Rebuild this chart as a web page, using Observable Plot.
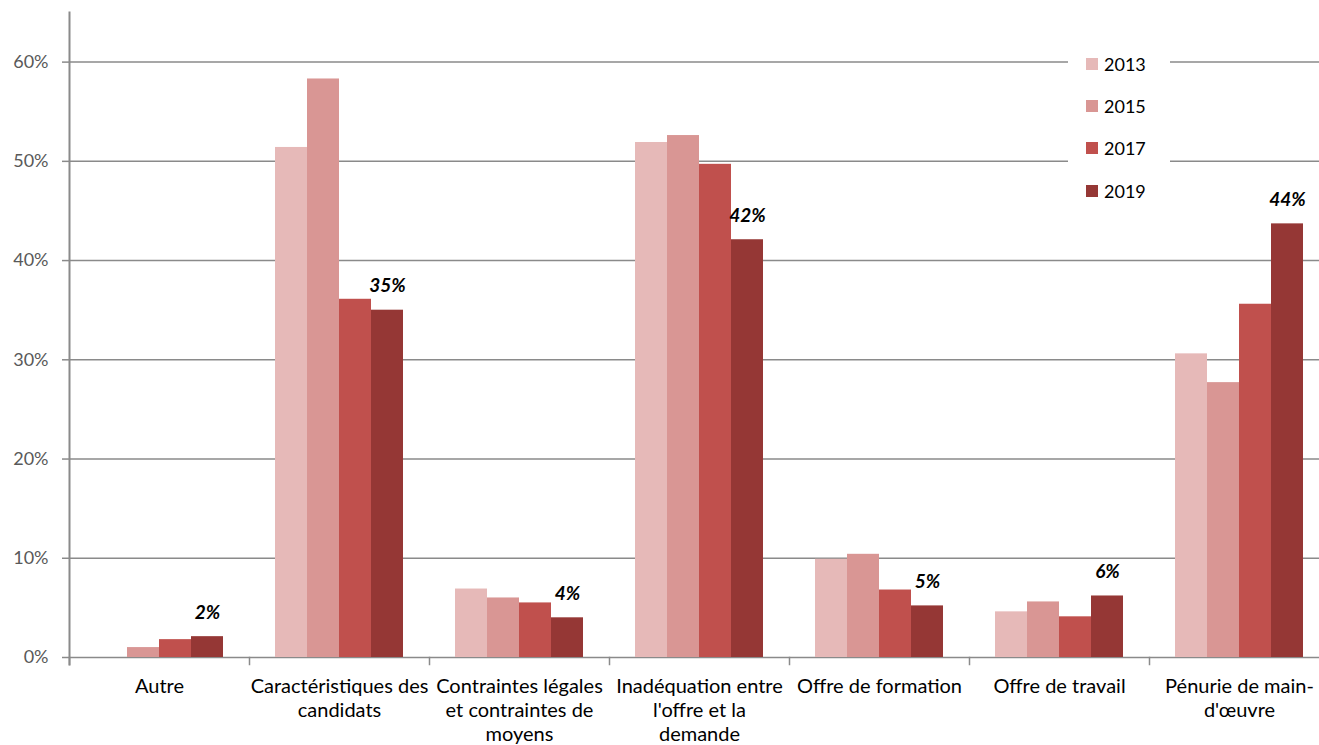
<!DOCTYPE html>
<html>
<head>
<meta charset="utf-8">
<script src="https://cdn.jsdelivr.net/npm/d3@7"></script>
<script src="https://cdn.jsdelivr.net/npm/@observablehq/plot@0.6"></script>
<style>
  html, body { margin: 0; padding: 0; background: #fff; }
  #wrap { position: relative; width: 1319px; height: 745px; overflow: hidden; font-family: Lato, "Open Sans", sans-serif; }
  #legend { position: absolute; left: 1068px; top: 44px; width: 102px; height: 168px; background: #fff; }
  .item { position: absolute; left: 18px; height: 22px; display: flex; align-items: center; font-size: 18px; color: #000; }
  .sw { width: 12px; height: 12px; margin-right: 6px; }
</style>
</head>
<body>
<div id="wrap"><div id="chart"></div><div id="legend"></div></div>
<script>
const categories = [
  "Autre",
  "Caractéristiques des candidats",
  "Contraintes légales et contraintes de moyens",
  "Inadéquation entre l'offre et la demande",
  "Offre de formation",
  "Offre de travail",
  "Pénurie de main-d'œuvre"
];
const tickLabels = [
  "Autre",
  "Caractéristiques des\ncandidats",
  "Contraintes légales\net contraintes de\nmoyens",
  "Inadéquation entre\nl'offre et la\ndemande",
  "Offre de formation",
  "Offre de travail",
  "Pénurie de main-\nd'œuvre"
];
const years = ["2013", "2015", "2017", "2019"];
const colors = ["#E6B9B8", "#D99694", "#C0504D", "#953735"];
const v2013 = [null, 51.4, 6.9, 51.9, 9.9, 4.6, 30.6];
const v2015 = [1.0, 58.3, 6.0, 52.6, 10.4, 5.6, 27.7];
const v2017 = [1.8, 36.1, 5.5, 49.7, 6.8, 4.1, 35.6];
const v2019 = [2.1, 35.0, 4.0, 42.1, 5.2, 6.2, 43.7];
const yTicks = [0, 10, 20, 30, 40, 50, 60];

const series = {"2013": v2013, "2015": v2015, "2017": v2017, "2019": v2019};
const rows = [];
for (const yr of years) {
  categories.forEach((c, i) => {
    if (series[yr][i] != null) rows.push({cat: c, year: yr, value: series[yr][i]});
  });
}
const labelRows = rows.filter(d => d.year === "2019");
const gray = "#8a8a8a";

const chart = Plot.plot({
  width: 1319,
  height: 745,
  marginLeft: 69,
  marginRight: -10,
  marginTop: 12,
  marginBottom: 88,
  style: {fontFamily: "Lato, 'Open Sans', sans-serif", background: "#fff"},
  fx: {domain: categories, padding: 0, label: null},
  x: {domain: years, paddingInner: 0, paddingOuter: 0.75, axis: null},
  y: {domain: [0, 65], label: null},
  color: {domain: years, range: colors},
  marks: [
    Plot.ruleY(yTicks, {stroke: gray, strokeWidth: 1.5}),
    Plot.barY(rows, {fx: "cat", x: "year", y: "value", fill: "year"}),
    Plot.text(labelRows, {
      fx: "cat", x: "year", y: "value",
      text: d => Math.round(d.value) + "%",
      dy: -24, fontSize: 19, fontWeight: "bold", fontStyle: "italic", fill: "#000"
    }),
    Plot.axisY({
      ticks: yTicks, tickFormat: d => d + "%", tickSize: 7, tickPadding: 14,
      stroke: gray, strokeWidth: 1.5, fill: "#595959", fontSize: 18, label: null
    }),
    Plot.frame({anchor: "left", facetAnchor: "left", stroke: gray, strokeWidth: 2, insetBottom: -7}),
    Plot.frame({anchor: "left", stroke: gray, strokeWidth: 1.5, insetTop: 645, insetBottom: -7}),
    Plot.axisFx({
      anchor: "bottom", tickSize: 0, tickPadding: 18, label: null,
      tickFormat: d => tickLabels[categories.indexOf(d)],
      fontSize: 20, lineHeight: 24 / 20, fill: "#000", lineAnchor: "top"
    })
  ]
});
document.getElementById("chart").appendChild(chart);

const legend = document.getElementById("legend");
const legendTops = [9, 51, 93, 136];
years.forEach((yr, i) => {
  const it = document.createElement("div");
  it.className = "item";
  it.style.top = legendTops[i] + "px";
  it.innerHTML = `<span class="sw" style="background:${colors[i]}"></span><span>${yr}</span>`;
  legend.appendChild(it);
});
</script>
</body>
</html>
